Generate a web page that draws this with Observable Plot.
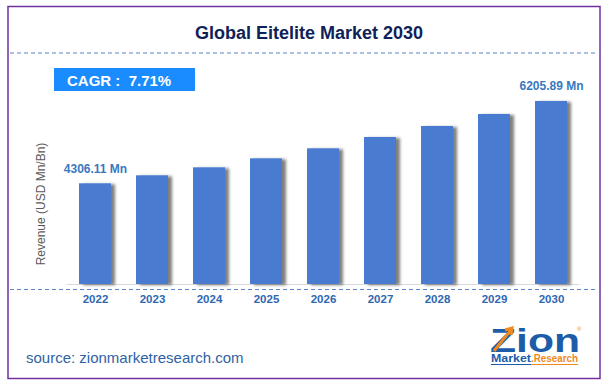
<!DOCTYPE html>
<html>
<head>
<meta charset="utf-8">
<script src="https://cdn.jsdelivr.net/npm/d3@7"></script>
<script src="https://cdn.jsdelivr.net/npm/@observablehq/plot@0.6"></script>
<style>
  html, body { margin: 0; padding: 0; background: #fff; }
  #chart { width: 608px; height: 387px; }
</style>
</head>
<body>
<div id="chart"></div>
<script>
const years = ["2022", "2023", "2024", "2025", "2026", "2027", "2028", "2029", "2030"];
const revenue = [4306.11, 4491, 4675, 4883, 5114, 5375, 5629, 5906, 6205.89];
const labelYears = ["2022", "2030"];
const titleText = "Global Eitelite Market 2030";
const cagrText = "CAGR :  7.71%";
const yLabel = "Revenue (USD Mn/Bn)";
const sourceText = "source: zionmarketresearch.com";

const baseValue = 1982;
const topValue = 7152;
const data = years.map((year, i) => ({year, revenue: revenue[i]}));
const font = "'Liberation Sans', Arial, sans-serif";

const chart = Plot.plot({
  width: 608,
  height: 387,
  marginLeft: 52.75,
  marginRight: 14.75,
  marginTop: 60,
  marginBottom: 103,
  style: {fontFamily: font, background: "#fff", overflow: "visible"},
  x: {domain: years, padding: 0.441, axis: null},
  y: {domain: [baseValue, topValue], axis: null},
  marks: [
    Plot.ruleY([baseValue], {stroke: "#d9d9d9", strokeWidth: 1, insetLeft: 14, insetRight: 14}),
    Plot.barY(data, {x: "year", y1: () => baseValue, y2: "revenue", fill: "#4a7bd1"}),
    Plot.text(data.filter(d => labelYears.includes(d.year)), {
      x: "year", y: "revenue", text: d => `${d.revenue.toFixed(2)} Mn`,
      dy: -15, fontSize: 12, fontWeight: "bold", fill: "#3a78c0"
    }),
    Plot.axisX({tickSize: 0, tickPadding: 10.5, fontSize: 11.5, fontWeight: "bold", color: "#2e67b1", label: null})
  ]
});

const svg = d3.select(chart);
// defs: drop shadow for bars
const defs = svg.insert("defs", ":first-child");
const f = defs.append("filter").attr("id", "barShadow")
  .attr("x", "-30%").attr("y", "-10%").attr("width", "170%").attr("height", "125%");
f.append("feDropShadow").attr("dx", 4).attr("dy", 1).attr("stdDeviation", 1.8)
  .attr("flood-color", "#000").attr("flood-opacity", 0.5);
svg.select("g[aria-label='bar']").attr("filter", "url(#barShadow)");

// frame border
svg.append("rect").attr("x", 8).attr("y", 6.5).attr("width", 592).attr("height", 372)
  .attr("fill", "none").attr("stroke", "#7030a0").attr("stroke-width", 1.5);

// dashed separators
[53, 289.5].forEach(y => {
  svg.append("line").attr("x1", 10).attr("x2", 598).attr("y1", y).attr("y2", y)
    .attr("stroke", "#5b84c4").attr("stroke-width", 1).attr("stroke-dasharray", "4,3");
});

// title
svg.append("text").attr("x", 309).attr("y", 39).attr("text-anchor", "middle")
  .attr("font-family", font).attr("font-size", 18).attr("font-weight", "bold")
  .attr("fill", "#0f2258").text(titleText);

// CAGR box
svg.append("rect").attr("x", 54).attr("y", 68).attr("width", 141).attr("height", 23).attr("fill", "#1a8cff");
svg.append("text").attr("x", 67).attr("y", 86).attr("text-anchor", "start").attr("font-family", font).attr("font-size", 15)
  .attr("font-weight", "bold").attr("fill", "#fff")
  .style("white-space", "pre").text(cagrText);

// y label
svg.append("text").attr("transform", "translate(45,204) rotate(-90)").attr("text-anchor", "middle")
  .attr("font-family", font).attr("font-size", 12).attr("fill", "#595959").text(yLabel);

// source
svg.append("text").attr("x", 26).attr("y", 363).attr("text-anchor", "start").attr("font-family", font).attr("font-size", 15)
  .attr("fill", "#2f62a3").text(sourceText);

// logo
const logo = svg.append("g").attr("text-anchor", "start");
logo.append("text").attr("x", 490).attr("y", 352).attr("font-family", font).attr("font-size", 33)
  .attr("font-weight", "bold").attr("fill", "#1d5ca8").attr("textLength", 90)
  .attr("lengthAdjust", "spacingAndGlyphs").text("Zion");
logo.append("path").attr("d", "M494,351 L511,330 M505,330 L512,328 L511,335")
  .attr("stroke", "#f08a1c").attr("stroke-width", 3).attr("fill", "none");
logo.append("text").attr("x", 491).attr("y", 362).attr("font-family", font)
  .attr("font-size", 11.5).attr("font-weight", "bold").attr("fill", "#1d5ca8")
  .attr("textLength", 40).attr("lengthAdjust", "spacingAndGlyphs").text("Market");
logo.append("text").attr("x", 531).attr("y", 362).attr("font-family", font)
  .attr("font-size", 11.5).attr("font-weight", "bold").attr("fill", "#f08a1c")
  .attr("textLength", 47).attr("lengthAdjust", "spacingAndGlyphs").text(".Research");
logo.append("line").attr("x1", 491).attr("x2", 531).attr("y1", 364.5).attr("y2", 364.5)
  .attr("stroke", "#1d5ca8").attr("stroke-width", 1);
logo.append("line").attr("x1", 531).attr("x2", 578).attr("y1", 364.5).attr("y2", 364.5)
  .attr("stroke", "#f08a1c").attr("stroke-width", 1);
logo.append("text").attr("x", 577).attr("y", 331).attr("font-family", font).attr("font-size", 6)
  .attr("fill", "#f08a1c").text("®");

document.getElementById("chart").appendChild(chart);
</script>
</body>
</html>
